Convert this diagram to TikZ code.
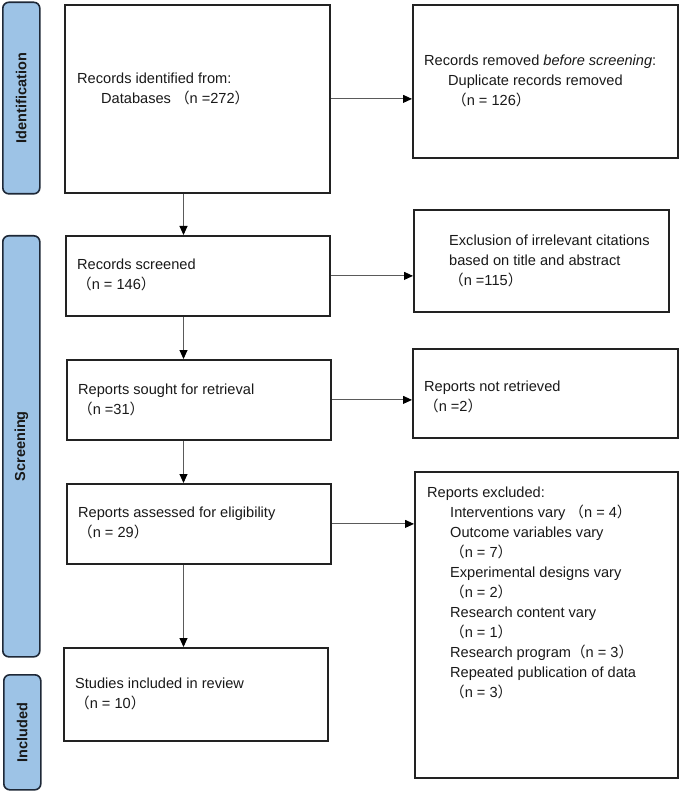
\documentclass[tikz,border=0pt]{standalone}
\usepackage{fontspec}
\setmainfont{Liberation Sans}
\newfontfamily\cjk{Noto Sans CJK SC}
\usetikzlibrary{arrows.meta}
\newcommand\flp{{\cjk （}}
\newcommand\frp{{\cjk ）}}
\newcommand\tstrut{\rule{0pt}{14pt}}
\definecolor{barfill}{RGB}{157,195,230}
\definecolor{barline}{RGB}{30,40,55}
\definecolor{boxline}{RGB}{34,34,34}
\definecolor{conn}{RGB}{90,90,90}
\definecolor{txt}{RGB}{25,25,25}
\begin{document}
\begin{tikzpicture}[x=1pt,y=-1pt,
 box/.style={draw=boxline, line width=1.8pt, rectangle, inner sep=0pt, anchor=north west},
 bar/.style={draw=barline, fill=barfill, line width=1.6pt, rounded corners=6pt, inner sep=0pt, anchor=north west},
 barlab/.style={font=\fontsize{14.5}{17}\selectfont\bfseries, rotate=90, text=txt},
 txtblk/.style={anchor=north west, inner sep=0pt, align=left, text=txt, font=\fontsize{14.6}{20}\selectfont},
 arr/.style={draw=conn, line width=0.9pt, -{Triangle[length=9pt,width=8pt,color=black]}}
]
\useasboundingbox[fill=white] (0,0) rectangle (679,791);

% phase bars
\node[bar, minimum width=37pt, minimum height=191.5pt] (bar1) at (2,1.5) {};
\node[bar, minimum width=37pt, minimum height=421pt] (bar2) at (2,235) {};
\node[bar, minimum width=37pt, minimum height=115pt] (bar3) at (3,674) {};
\node[barlab] (lab1) at (bar1.center) {Identification};
\node[barlab] (lab2) at (bar2.center) {Screening};
\node[barlab] (lab3) at (bar3.center) {Included};

% boxes
\node[box, minimum width=265pt, minimum height=188pt] (b1) at (64,4) {};
\node[box, minimum width=265pt, minimum height=153pt] (b2) at (412,4) {};
\node[box, minimum width=264pt, minimum height=80pt] (b3) at (65,235) {};
\node[box, minimum width=255pt, minimum height=102pt] (b4) at (413,209) {};
\node[box, minimum width=264pt, minimum height=80pt] (b5) at (66,359) {};
\node[box, minimum width=265pt, minimum height=89pt] (b6) at (412,348) {};
\node[box, minimum width=264pt, minimum height=80pt] (b7) at (66,483) {};
\node[box, minimum width=263pt, minimum height=306pt] (b8) at (414,471) {};
\node[box, minimum width=264pt, minimum height=93pt] (b9) at (63,647) {};

% texts
\node[txtblk] (t1) at (77,69) {\tstrut Records identified from:\\ \hspace*{24pt}Databases \flp n =272\frp};
\node[txtblk] (t2) at (424,51) {\tstrut Records removed \textit{before screening}:\\ \hspace*{24pt}Duplicate records removed\\ \hspace*{28pt}\flp n = 126\frp};
\node[txtblk] (t3) at (77,255) {\tstrut Records screened\\ \flp n = 146\frp};
\node[txtblk] (t4) at (449,231) {\tstrut Exclusion of irrelevant citations\\ based on title and abstract\\ \flp n =115\frp};
\node[txtblk] (t5) at (78,380) {\tstrut Reports sought for retrieval\\ \flp n =31\frp};
\node[txtblk] (t6) at (424,377) {\tstrut Reports not retrieved\\ \flp n =2\frp};
\node[txtblk] (t7) at (78,503) {\tstrut Reports assessed for eligibility\\ \flp n = 29\frp};
\node[txtblk] (t8) at (427,483) {\tstrut Reports excluded:\\
 \hspace*{23pt}Interventions vary \flp n = 4\frp\\
 \hspace*{23pt}Outcome variables vary\\
 \hspace*{23pt}\flp n = 7\frp\\
 \hspace*{23pt}Experimental designs vary\\
 \hspace*{23pt}\flp n = 2\frp\\
 \hspace*{23pt}Research content vary\\
 \hspace*{23pt}\flp n = 1\frp\\
 \hspace*{23pt}Research program\flp n = 3\frp\\
 \hspace*{23pt}Repeated publication of data\\
 \hspace*{23pt}\flp n = 3\frp};
\node[txtblk] (t9) at (75,674) {\tstrut Studies included in review\\ \flp n = 10\frp};

% connectors
\coordinate (sp) at (183.5,0);
\draw[arr] (b1.south -| sp) -- (b3.north -| sp);
\draw[arr] (b3.south -| sp) -- (b5.north -| sp);
\draw[arr] (b5.south -| sp) -- (b7.north -| sp);
\draw[arr] (b7.south -| sp) -- (b9.north -| sp);
\draw[arr] (b1.east) -- (b1.east -| b2.west);
\draw[arr] (b3.east) -- (b3.east -| b4.west);
\draw[arr] (b5.east) -- (b5.east -| b6.west);
\draw[arr] (b7.east) -- (b7.east -| b8.west);
\end{tikzpicture}
\end{document}
